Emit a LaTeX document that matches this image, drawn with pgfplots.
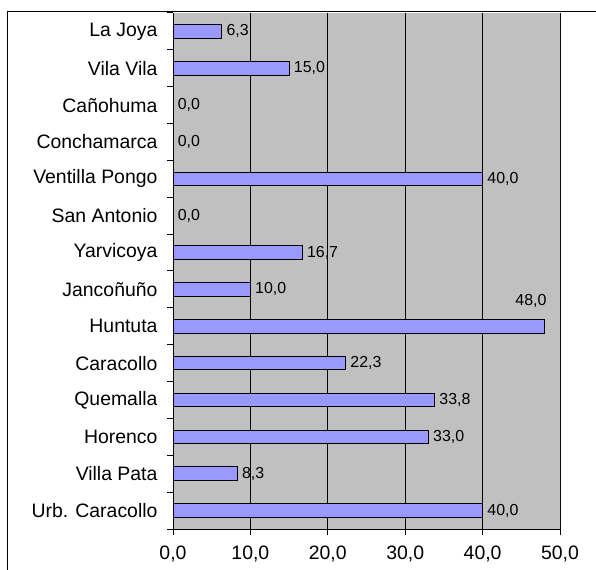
\documentclass[border=0pt]{standalone}
\usepackage{pgfplots}
\pgfplotsset{compat=1.18}
\usepackage{pgfplotstable}
\usepackage{fontspec}
\setmainfont{Liberation Sans}
\definecolor{plotgray}{HTML}{C0C0C0}
\definecolor{barblue}{HTML}{9999FF}

% y position, value, label (Urb. Caracollo at the bottom)
\pgfplotstableread[col sep=space]{
y  val   lab
0  40.0  40,0
1  8.3   8,3
2  33.0  33,0
3  33.8  33,8
4  22.3  22,3
5  48.0  {}
6  10.0  10,0
7  16.7  16,7
8  0.0   0,0
9  40.0  40,0
10 0.0   0,0
11 0.0   0,0
12 15.0  15,0
13 6.3   6,3
}\datatable

\begin{document}
\begin{tikzpicture}
\useasboundingbox (0,0) rectangle (596bp,570bp);
\begin{axis}[
    at={(173bp,41bp)}, anchor=south west,
    scale only axis,
    width=387bp, height=516bp,
    xmin=0, xmax=50,
    ymin=-0.5, ymax=13.5,
    axis x line*=bottom, axis y line*=left,
    axis line style={black, line width=1bp, -},
    axis background/.style={fill=plotgray},
    xtick={0,10,...,50},
    minor xtick={0,10,...,50},
    xticklabels={{0,0},{10,0},{20,0},{30,0},{40,0},{50,0}},
    xmajorgrids=true,
    major grid style={black, line width=1bp},
    ytick={0,...,13},
    yticklabels={Urb. Caracollo, Villa Pata, Horenco, Quemalla, Caracollo,
        Huntuta, Jancoñuño, Yarvicoya, San Antonio, Ventilla Pongo,
        Conchamarca, Cañohuma, Vila Vila, La Joya},
    minor ytick={-0.5,0.5,...,13.5},
    tick align=outside,
    tick style={black, line width=1bp},
    major tick length=0pt,
    minor tick length=6bp,
    tick label style={font=\fontsize{19.5}{19.5}\selectfont},
    yticklabel style={xshift=-12bp},
    xticklabel style={yshift=-13bp},
]
\addplot[
    xbar, bar width=13.5bp, fill=barblue, draw=black, line width=1bp,
    point meta=explicit symbolic,
    nodes near coords,
    nodes near coords style={font=\fontsize{16}{16}\selectfont, anchor=west, xshift=1bp},
] table[x=val, y=y, meta=lab] {\datatable};
\node[anchor=east, font=\fontsize{16}{16}\selectfont] at (axis cs:48.7,5.7) {48,0};
\draw[gray!60!black, line width=1bp] (rel axis cs:1,0) -- (rel axis cs:1,1);
\end{axis}
\draw[black, line width=1bp] (7bp,-20bp) -- (7bp,558bp) -- (620bp,558bp);
\end{tikzpicture}
\end{document}
